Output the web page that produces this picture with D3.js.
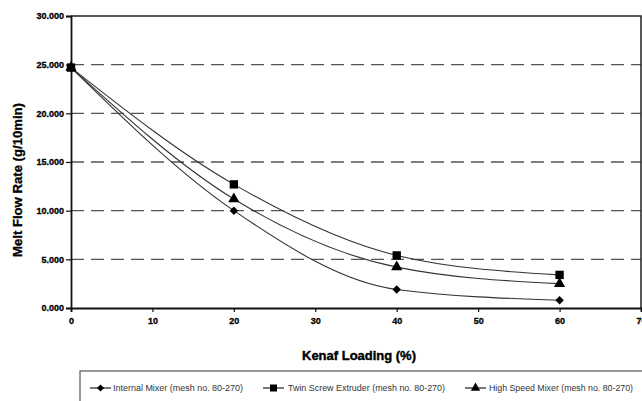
<!DOCTYPE html>
<html>
<head>
<meta charset="utf-8">
<script src="https://cdn.jsdelivr.net/npm/d3@7"></script>
<style>
  html, body { margin: 0; padding: 0; background: #fff; }
  svg { display: block; }
  text { font-family: "Liberation Sans", Arial, sans-serif; }
</style>
</head>
<body>
<svg id="chart" width="642" height="401"></svg>
<script>
// ---- data ----
const loading = [0, 20, 40, 60];
const internalMixer = [24.7, 10.0, 1.9, 0.8];
const twinScrew = [24.7, 12.7, 5.4, 3.4];
const highSpeed = [24.7, 11.2, 4.2, 2.5];
const seriesNames = [
  "Internal Mixer (mesh no. 80-270)",
  "Twin Screw Extruder (mesh no. 80-270)",
  "High Speed Mixer (mesh no. 80-270)"
];
const xTicks = [0, 10, 20, 30, 40, 50, 60, 70];
const yTicks = [0, 5, 10, 15, 20, 25, 30];
const gridTicks = [5, 10, 15, 20, 25];
const xTitle = "Kenaf Loading (%)";
const yTitle = "Melt Flow Rate (g/10min)";

(function () {
const series = [
  { name: seriesNames[0], values: internalMixer, marker: d3.symbolSquare, size: 36, rot: 45 },
  { name: seriesNames[1], values: twinScrew, marker: d3.symbolSquare, size: 70, rot: 0 },
  { name: seriesNames[2], values: highSpeed, marker: d3.symbolTriangle, size: 55, rot: 0 }
];

const svg = d3.select("#chart");
const pL = 71, pR = 641, pT = 16, pB = 308;
const x = d3.scaleLinear().domain([0, 70]).range([pL, pR]);
const y = d3.scaleLinear().domain([0, 30]).range([pB, pT]);
const fmt = d3.format(".3f");

// gridlines
svg.append("g").selectAll("line").data(gridTicks).join("line")
  .attr("x1", pL).attr("x2", pR)
  .attr("y1", d => y(d)).attr("y2", d => y(d))
  .attr("stroke", "#555").attr("stroke-width", 1.4)
  .attr("stroke-dasharray", "13,7");

// border top/right
svg.append("path")
  .attr("d", `M${pL},${pT}H${pR}V${pB}`)
  .attr("fill", "none").attr("stroke", "#222").attr("stroke-width", 1.5);

// axes
const yAxis = svg.append("g").attr("transform", `translate(${pL},0)`)
  .call(d3.axisLeft(y).tickValues(yTicks).tickFormat(fmt).tickSize(5).tickPadding(2));
const xAxis = svg.append("g").attr("transform", `translate(0,${pB})`)
  .call(d3.axisBottom(x).tickValues(xTicks).tickFormat(d3.format("d")).tickSize(4).tickPadding(6));
[yAxis, xAxis].forEach(g => {
  g.select(".domain").attr("stroke", "#111").attr("stroke-width", 1.8);
  g.selectAll(".tick line").attr("stroke", "#111").attr("stroke-width", 1.2);
  g.selectAll(".tick text").attr("fill", "#000").attr("font-size", 9)
    .attr("font-weight", "bold").attr("stroke", "#000").attr("stroke-width", 0.3)
    .attr("font-family", "'Liberation Sans', Arial, sans-serif");
});

// lines
const line = d3.line()
  .x((d, i) => x(loading[i]))
  .y(d => y(d))
  .curve(d3.curveMonotoneX);

series.forEach(s => {
  svg.append("path").datum(s.values)
    .attr("d", line)
    .attr("fill", "none").attr("stroke", "#333").attr("stroke-width", 1.1);
});
series.forEach(s => {
  svg.append("g").selectAll("path").data(s.values).join("path")
    .attr("transform", (d, i) => `translate(${x(loading[i])},${y(d)}) rotate(${s.rot})`)
    .attr("d", d3.symbol().type(s.marker).size(s.size))
    .attr("fill", "#000");
});

// axis titles
svg.append("text")
  .attr("x", 359).attr("y", 360)
  .attr("text-anchor", "middle")
  .attr("font-size", 13).attr("font-weight", "bold")
  .attr("stroke", "#000").attr("stroke-width", 0.4)
  .attr("textLength", 114).attr("lengthAdjust", "spacingAndGlyphs")
  .text(xTitle);
svg.append("text")
  .attr("transform", "translate(22,180) rotate(-90)")
  .attr("text-anchor", "middle")
  .attr("font-size", 12).attr("font-weight", "bold")
  .attr("stroke", "#000").attr("stroke-width", 0.3)
  .attr("textLength", 154).attr("lengthAdjust", "spacingAndGlyphs")
  .text(yTitle);

// legend
svg.append("rect")
  .attr("x", 80).attr("y", 371).attr("width", 600).attr("height", 40)
  .attr("fill", "none").attr("stroke", "#555").attr("stroke-width", 1.2);
const legendPos = [
  { lx: 90, tx: 113, tw: 130 },
  { lx: 263, tx: 288, tw: 157 },
  { lx: 465, tx: 489, tw: 144 }
];
const ly = 388;
series.forEach((s, i) => {
  const p = legendPos[i];
  const g = svg.append("g");
  g.append("line").attr("x1", p.lx).attr("x2", p.lx + 21)
    .attr("y1", ly).attr("y2", ly).attr("stroke", "#222").attr("stroke-width", 1.2);
  g.append("path")
    .attr("transform", `translate(${p.lx + 10.5},${ly}) rotate(${s.rot})`)
    .attr("d", d3.symbol().type(s.marker).size(s.size * 0.7))
    .attr("fill", "#000");
  g.append("text").attr("x", p.tx).attr("y", ly + 3)
    .attr("font-size", 8.5).attr("fill", "#333")
    .attr("textLength", p.tw).attr("lengthAdjust", "spacingAndGlyphs")
    .text(s.name);
});
})();
</script>
</body>
</html>
